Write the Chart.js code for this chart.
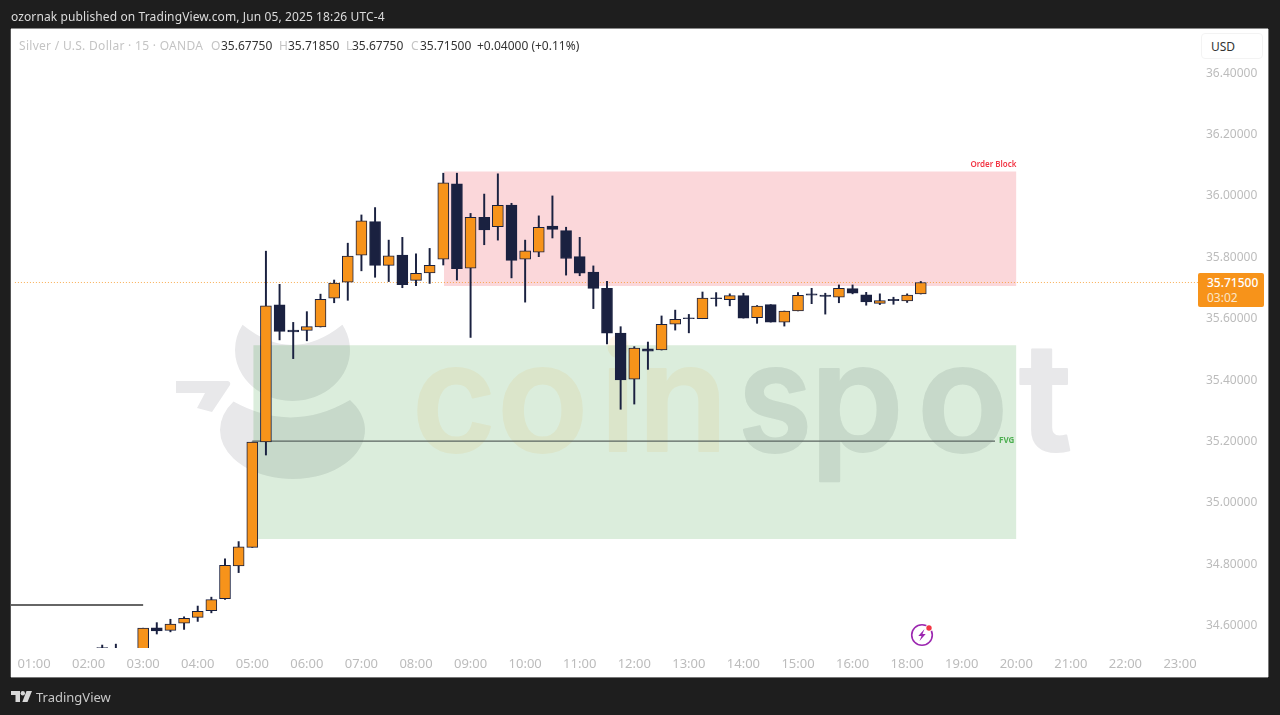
<!DOCTYPE html>
<html>
<head>
<meta charset="utf-8">
<title>Silver / U.S. Dollar</title>
<script src="https://cdn.jsdelivr.net/npm/chart.js@4"></script>
<style>
html, body { margin: 0; padding: 0; width: 1280px; height: 715px; overflow: hidden; background: #1e1e1e; }
body { font-family: "Noto Sans", sans-serif; }
#panel { position: absolute; left: 11px; top: 29px; width: 1257px; height: 648px; background: #fff; box-shadow: 0 -1px 0 #8a8a8a, -1px 0 0 #555, 1px 0 0 #777, 0 1px 0 #777; }
canvas { position: absolute; left: 0; top: 0; }
.txt { position: absolute; white-space: nowrap; line-height: 16px; }
#published { left: 11px; top: 9px; font-size: 12px; letter-spacing: 0.11px; color: #dcdcdc; }
#legend span { position: absolute; top: 38px; font-size: 12px; line-height: 16px; white-space: nowrap; color: #333; }
#legend span.dim { color: #c4c4c4; }
#usd { position: absolute; left: 1201px; top: 33px; width: 62px; height: 26px; border: 1px solid #f3f3f3; border-radius: 4px; background: #fff; box-sizing: border-box; font-size: 12px; line-height: 26px; padding-left: 9px; color: #333; }
#pill { position: absolute; left: 1198px; top: 273px; width: 66px; height: 34px; background: #f7931a; border-radius: 2px; color: #fff; font-size: 12px; font-weight: 500; line-height: 15px; padding: 2px 0 0 9px; box-sizing: border-box; }
#pill div:last-child { color: #fbe6c8; font-weight: 400; }
#brand { left: 36px; top: 689px; font-size: 13px; color: #c8c8c8; }
#tvlogo { position: absolute; left: 11px; top: 691px; }
#bolt { position: absolute; left: 908px; top: 621px; }
</style>
</head>
<body>
<div id="panel"></div>
<canvas id="chart" width="1280" height="715"></canvas>
<div class="txt" id="published">ozornak published on TradingView.com, Jun 05, 2025 18:26 UTC-4</div>
<div id="legend">
  <span class="dim" style="left:19px;letter-spacing:0.29px">Silver / U.S. Dollar · 15 · OANDA</span>
  <span class="dim" style="left:211px">O</span><span style="left:221px">35.67750</span>
  <span class="dim" style="left:279px">H</span><span style="left:288px">35.71850</span>
  <span class="dim" style="left:346px">L</span><span style="left:352px">35.67750</span>
  <span class="dim" style="left:411px">C</span><span style="left:420px">35.71500</span>
  <span style="left:477px">+0.04000 (+0.11%)</span>
</div>
<div id="usd">USD</div>
<div id="pill"><div>35.71500</div><div>03:02</div></div>
<svg id="tvlogo" width="21" height="12" viewBox="0 0 21 12"><path fill="#d8d8d8" d="M0 0h9v11H4.5V4H0z"/><circle cx="11.8" cy="2.2" r="2.2" fill="#d8d8d8"/><path fill="#d8d8d8" d="M15.5 0H21l-4.5 11h-5.2z"/></svg>
<div class="txt" id="brand">TradingView</div>
<svg id="bolt" width="28" height="28" viewBox="0 0 28 28">
  <circle cx="14" cy="14" r="10.3" fill="none" stroke="#9c27b0" stroke-width="1.6"/>
  <path fill="#9c27b0" d="M16.5 8l-6.2 7h3.2l-2 5 6.2-7h-3.2z"/>
  <circle cx="21" cy="7" r="3.6" fill="#fff"/><circle cx="21" cy="7" r="2.7" fill="#f23645"/>
</svg>
<script>
// 15分足 スロット番号 = 01:00 を 0 とした本数
var firstSlot = 5;
var candleOpen = [34.526,34.51,34.505,34.49,34.590,34.582,34.605,34.624,34.646,34.685,34.792,34.852,35.196,35.642,35.560,35.559,35.570,35.664,35.716,35.804,35.913,35.771,35.804,35.722,35.746,35.791,36.036,35.762,35.927,35.897,35.967,35.791,35.814,35.899,35.884,35.799,35.749,35.696,35.550,35.400,35.499,35.495,35.579,35.600,35.597,35.665,35.659,35.672,35.600,35.643,35.586,35.622,35.678,35.674,35.667,35.695,35.675,35.647,35.660,35.655,35.6775];
var candleHigh = [34.534,34.537,34.515,34.589,34.607,34.618,34.626,34.661,34.690,34.815,34.871,35.195,35.817,35.709,35.585,35.620,35.677,35.723,35.843,35.935,35.959,35.853,35.862,35.808,35.826,36.071,36.071,35.940,36.003,36.069,35.973,35.853,35.932,35.997,35.895,35.862,35.769,35.719,35.571,35.506,35.521,35.606,35.625,35.611,35.684,35.682,35.678,35.680,35.640,35.643,35.622,35.682,35.696,35.680,35.707,35.707,35.683,35.678,35.667,35.678,35.7185];
var candleLow = [34.515,34.49,34.47,34.48,34.570,34.577,34.585,34.611,34.639,34.683,34.770,34.852,35.153,35.528,35.467,35.525,35.570,35.649,35.657,35.753,35.732,35.718,35.698,35.705,35.712,35.772,35.723,35.536,35.838,35.853,35.730,35.651,35.799,35.860,35.739,35.737,35.630,35.515,35.302,35.319,35.432,35.495,35.560,35.551,35.597,35.638,35.639,35.599,35.582,35.586,35.573,35.622,35.646,35.612,35.649,35.678,35.641,35.643,35.644,35.650,35.6775];
var candleClose = [34.523,34.505,34.49,34.589,34.580,34.602,34.621,34.644,34.682,34.794,34.854,35.195,35.639,35.556,35.554,35.571,35.660,35.713,35.801,35.916,35.771,35.802,35.708,35.745,35.771,36.040,35.760,35.927,35.886,35.966,35.787,35.818,35.895,35.888,35.793,35.745,35.696,35.550,35.398,35.501,35.491,35.579,35.595,35.597,35.664,35.662,35.672,35.599,35.638,35.586,35.622,35.673,35.674,35.670,35.696,35.680,35.652,35.656,35.656,35.674,35.715];

// 1時間ごとの目盛り (17:00 は休場で 16:00 の次は 18:00)
var timeLabels = ["01:00","02:00","03:00","04:00","05:00","06:00","07:00","08:00","09:00","10:00","11:00","12:00","13:00","14:00","15:00","16:00","18:00","19:00","20:00","21:00","22:00","23:00"];

var lastPrice = 35.715;
var lastLineStart = -1.4;
var orderBlock = [36.0765, 35.7036];   // 上限, 下限
var orderBlockSlots = [30.05, 72.01];
var fvgZone = [35.5104, 34.8795];
var fvgZoneSlots = [16.07, 72.01];
var fvgLine = 35.198;
var fvgLineSlots = [16, 70.44];
var leftLine = 34.6645;
var leftLineEnd = 8;

var xMin = -1.686, xMax = 85.32;
var yMin = 34.5244, yMax = 36.5407;

var orange = "#f7931a", navy = "#1a2140";

function slotOf(k) { return firstSlot + k; }

var wickData = candleHigh.map(function (h, k) { return { x: slotOf(k), y: [candleLow[k], h] }; });
var bodyData = candleOpen.map(function (o, k) { return { x: slotOf(k), y: [o, candleClose[k]] }; });

function isUp(k) { return candleClose[k] >= candleOpen[k]; }

function hLine(y, slots, color, width, dash) {
    return {
        type: "line", order: 2, data: [{ x: slots[0], y: y }, { x: slots[1], y: y }],
        borderColor: color, borderWidth: width, borderDash: dash || [], pointRadius: 0, fill: false
    };
}

function zone(band, slots, color) {
    return {
        type: "line", order: 3, data: [{ x: slots[0], y: band[0] }, { x: slots[1], y: band[0] }],
        borderWidth: 0, pointRadius: 0, backgroundColor: color, fill: { value: band[1] }
    };
}

// 背景のロゴ (透かし)
var watermark = {
    id: "watermark",
    beforeDatasetsDraw: function (chart) {
        var c = chart.ctx;
        c.save();
        c.fillStyle = "#e8e8ea";
        // 上の三日月
        c.beginPath();
        c.ellipse(292.5, 350, 57.5, 51, 0, -0.518, Math.PI + 0.518, false);
        c.quadraticCurveTo(292, 365, 342, 325);
        c.fill();
        // 下の三日月
        c.beginPath();
        c.ellipse(292.5, 430, 72.5, 49, 0, -0.62, Math.PI + 0.62, false);
        c.quadraticCurveTo(292, 434, 350, 400);
        c.fill();
        // 「7」の形
        c.beginPath();
        c.moveTo(176, 381); c.lineTo(228, 381); c.quadraticCurveTo(231, 382, 230, 385);
        c.lineTo(212, 412); c.lineTo(197, 408); c.lineTo(205, 393); c.lineTo(176, 393);
        c.closePath();
        c.fill();
        // 文字 (幅は maxWidth で合わせる)
        c.font = "600 150px Inter";
        c.textBaseline = "alphabetic";
        c.lineJoin = "round";
        c.lineWidth = 2;
        var peach = "#fff6ea", grey = "#e8e8ea";
        var letters = [["c", 412, 84, peach], ["o", 497, 98, peach], ["i", 601, 34, peach], ["n", 638, 90, peach],
                       ["s", 738, 74, grey], ["p", 810, 100, grey], ["o", 917, 98, grey], ["t", 1019, 62, grey]];
        letters.forEach(function (l) {
            c.fillStyle = l[3];
            c.strokeStyle = l[3];
            c.fillText(l[0], l[1], 451, l[2]);
            c.strokeText(l[0], l[1], 451, l[2]);
        });
        c.restore();
    }
};

// ゾーンのラベル
var zoneLabels = {
    id: "zoneLabels",
    afterDatasetsDraw: function (chart) {
        var c = chart.ctx, xs = chart.scales.x, ys = chart.scales.y;
        c.save();
        c.font = "600 8px 'Noto Sans'";
        c.textAlign = "right";
        c.textBaseline = "middle";
        c.fillStyle = "#f23645";
        c.fillText("Order Block", xs.getPixelForValue(orderBlockSlots[1]), ys.getPixelForValue(orderBlock[0]) - 7);
        c.font = "700 8px 'Noto Sans'";
        c.fillStyle = "#4caf50";
        c.fillText("FVG", xs.getPixelForValue(orderBlockSlots[1]) - 2, ys.getPixelForValue(fvgLine));
        c.restore();
    }
};

new Chart(document.getElementById("chart").getContext("2d"), {
    type: "bar",
    data: {
        datasets: [
            {
                order: 0, data: bodyData, grouped: false, barThickness: 11, maxBarThickness: 11,
                backgroundColor: function (ctx) { return isUp(ctx.dataIndex) ? orange : navy; },
                borderColor: navy, borderWidth: 1, borderSkipped: false
            },
            {
                order: 1, data: wickData, grouped: false, barThickness: 1.3, maxBarThickness: 1.3,
                backgroundColor: navy, borderWidth: 0
            },
            hLine(lastPrice, [lastLineStart, xMax], "rgba(247,147,26,0.75)", 1, [1, 2]),
            hLine(fvgLine, fvgLineSlots, "#5a6460", 1.2),
            hLine(leftLine, [xMin, leftLineEnd], "#333333", 1.5),
            zone(orderBlock, orderBlockSlots, "rgba(231,20,37,0.17)"),
            zone(fvgZone, fvgZoneSlots, "rgba(0,130,10,0.14)")
        ]
    },
    options: {
        responsive: false,
        animation: false,
        layout: { padding: { left: 11, top: 29, right: 12, bottom: 38 } },
        plugins: { legend: { display: false }, tooltip: { enabled: false } },
        scales: {
            x: {
                type: "linear", min: xMin, max: xMax, offset: false,
                grid: { display: false }, border: { display: false },
                afterFit: function (s) { s.height = 29; },
                ticks: {
                    stepSize: 4, includeBounds: false, maxRotation: 0, autoSkip: false, padding: 0,
                    color: "#bcbcbc", font: { family: "'Noto Sans'", size: 13 },
                    callback: function (v) { return timeLabels[v / 4]; }
                }
            },
            y: {
                position: "right", min: yMin, max: yMax,
                grid: { display: false }, border: { display: false },
                afterFit: function (s) { s.width = 70; },
                ticks: {
                    stepSize: 0.2, includeBounds: false, padding: 0, labelOffset: 1,
                    color: "#bcbcbc", font: { family: "'Noto Sans'", size: 12 },
                    callback: function (v) { return v.toFixed(5); }
                }
            }
        }
    },
    plugins: [watermark, zoneLabels]
});
</script>
</body>
</html>
